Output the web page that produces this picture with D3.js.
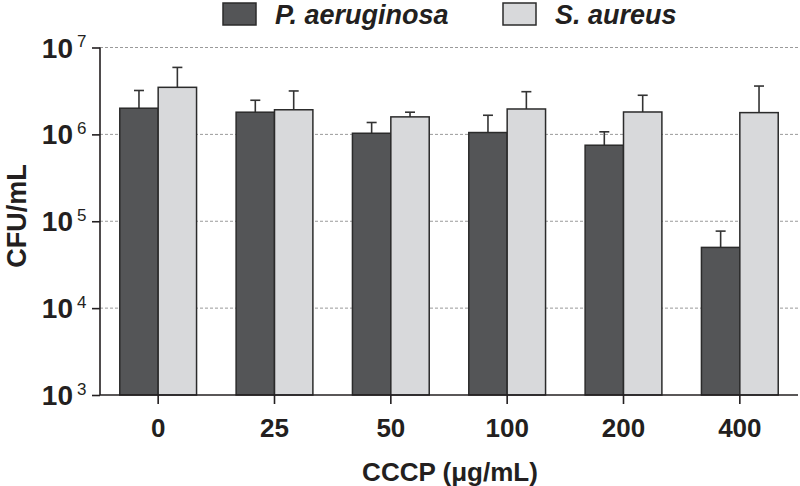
<!DOCTYPE html>
<html>
<head>
<meta charset="utf-8">
<script src="https://cdn.jsdelivr.net/npm/d3@7"></script>
<style>
  body { margin: 0; background: #fff; }
  text { font-family: "Liberation Sans", Arial, sans-serif; font-weight: bold; fill: #231f20; }
</style>
</head>
<body>
<div id="chart"></div>
<script>
var w = 800,
    h = 486;

// data
var doses = ["0", "25", "50", "100", "200", "400"];
var series = ["P. aeruginosa", "S. aureus"];
var paMean = [2.0e6, 1.8e6, 1.03e6, 1.05e6, 7.5e5, 5.0e4];
var paErr  = [3.2e6, 2.47e6, 1.37e6, 1.66e6, 1.07e6, 7.7e4];
var saMean = [3.48e6, 1.92e6, 1.59e6, 1.96e6, 1.81e6, 1.78e6];
var saErr  = [5.9e6, 3.16e6, 1.8e6, 3.1e6, 2.82e6, 3.6e6];
var yTicks = [1e3, 1e4, 1e5, 1e6, 1e7];
var colors = ["#545557", "#d8d9db"];

var svg = d3.select("#chart").append("svg")
    .attr("width", w)
    .attr("height", h);

var pLeft = 100, pRight = 798, pTop = 47.5, pBottom = 395;

var x = d3.scaleBand()
    .domain(doses)
    .range([pLeft, pRight])
    .paddingInner(0.34)
    .paddingOuter(0.17);

var xs = d3.scaleBand()
    .domain(series)
    .range([0, x.bandwidth()]);

var y = d3.scaleLog()
    .domain([1e3, 1e7])
    .range([pBottom, pTop]);

// gridlines
svg.append("g").selectAll("line")
    .data(yTicks.slice(1))
    .enter().append("line")
    .attr("x1", pLeft)
    .attr("x2", pRight)
    .attr("y1", function(d) { return y(d); })
    .attr("y2", function(d) { return y(d); })
    .attr("stroke", "#9a9a9a")
    .attr("stroke-width", 1)
    .attr("stroke-dasharray", "3,2");

// build rows
var flat = [];
doses.forEach(function(d, i) {
    flat.push({dose: d, s: series[0], v: paMean[i], e: paErr[i], c: colors[0]});
    flat.push({dose: d, s: series[1], v: saMean[i], e: saErr[i], c: colors[1]});
});

// error bars (upper only)
var eb = svg.append("g")
    .attr("stroke", "#333")
    .attr("stroke-width", 1.6);

flat.forEach(function(d) {
    var cx = x(d.dose) + xs(d.s) + xs.bandwidth() / 2;
    eb.append("line")
        .attr("x1", cx).attr("x2", cx)
        .attr("y1", y(d.v)).attr("y2", y(d.e));
    eb.append("line")
        .attr("x1", cx - 5).attr("x2", cx + 5)
        .attr("y1", y(d.e)).attr("y2", y(d.e));
});

// bars
svg.append("g").selectAll("rect")
    .data(flat)
    .enter().append("rect")
    .attr("x", function(d) { return x(d.dose) + xs(d.s); })
    .attr("y", function(d) { return y(d.v); })
    .attr("width", xs.bandwidth())
    .attr("height", function(d) { return pBottom - y(d.v); })
    .attr("fill", function(d) { return d.c; })
    .attr("stroke", "#2b2b2b")
    .attr("stroke-width", 1.5);

// y axis
var yAxis = svg.append("g")
    .attr("transform", "translate(" + pLeft + ",0)")
    .call(d3.axisLeft(y).tickValues(yTicks).tickSize(8).tickFormat(""));
yAxis.select(".domain").attr("d", "M0," + pTop + "V" + pBottom).attr("stroke", "#231f20").attr("stroke-width", 1.6);
yAxis.selectAll(".tick line").attr("stroke", "#231f20").attr("stroke-width", 1.6);

// 10^n labels
yTicks.forEach(function(t) {
    svg.append("text")
        .attr("x", 73)
        .attr("y", y(t) + 10)
        .attr("text-anchor", "end")
        .style("font-size", "28px")
        .text("10");
    svg.append("text")
        .attr("x", 77)
        .attr("y", y(t) - 0.5)
        .style("font-size", "17px")
        .style("font-weight", "normal")
        .text(Math.round(Math.log10(t)));
});

// x axis
var xAxis = svg.append("g")
    .attr("transform", "translate(0," + pBottom + ")")
    .call(d3.axisBottom(x).tickSize(9).tickSizeOuter(0));
xAxis.select(".domain").attr("d", "M" + pLeft + ",0H" + pRight).attr("stroke", "#231f20").attr("stroke-width", 1.6);
xAxis.selectAll(".tick line").attr("stroke", "#231f20").attr("stroke-width", 1.6);
xAxis.selectAll(".tick text")
    .attr("dy", 0)
    .attr("y", 42)
    .style("font-size", "26px")
    .style("font-family", "'Liberation Sans', Arial, sans-serif")
    .style("font-weight", "bold")
    .attr("fill", "#231f20");

// axis titles
svg.append("text")
    .attr("transform", "translate(26,216) rotate(-90)")
    .attr("text-anchor", "middle")
    .style("font-size", "27px")
    .text("CFU/mL");

svg.append("text")
    .attr("x", 450)
    .attr("y", 481)
    .attr("text-anchor", "middle")
    .style("font-size", "26px")
    .text("CCCP (\u03bcg/mL)");

// legend
var legend = svg.append("g");
var legX = [223, 503];
series.forEach(function(s, i) {
    legend.append("rect")
        .attr("x", legX[i])
        .attr("y", 3)
        .attr("width", 33)
        .attr("height", 22)
        .attr("fill", colors[i])
        .attr("stroke", "#2b2b2b")
        .attr("stroke-width", 1.5);
    legend.append("text")
        .attr("x", legX[i] + 52)
        .attr("y", 24)
        .style("font-size", "27px")
        .style("font-style", "italic")
        .text(s);
});
</script>
</body>
</html>
